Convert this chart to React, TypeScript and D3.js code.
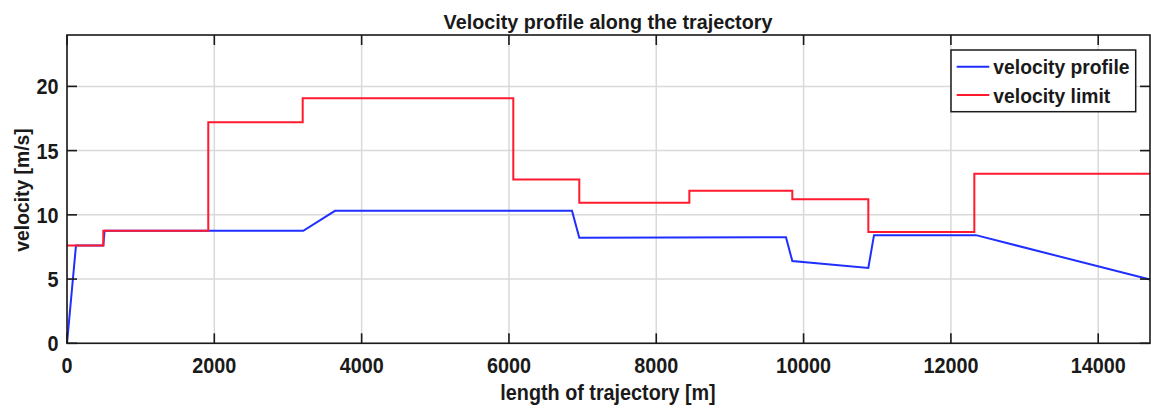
import React from "react";
import * as d3 from "d3";

const W = 1151;
const H = 408;

// velocity profile (blue) — length [m], velocity [m/s]
const profileX = [0, 122, 493, 510, 1918, 3208, 3638, 6856, 6910, 6955, 9761, 9847, 10879, 10956, 12340, 14703];
const profileV = [0, 7.62, 7.62, 8.76, 8.76, 8.76, 10.31, 10.31, 9.17, 8.22, 8.26, 6.4, 5.86, 8.42, 8.42, 4.96];

// velocity limit (red) — step function
const limitX = [0, 493, 1918, 3200, 6059, 6955, 8449, 9847, 10879, 12318, 14703];
const limitV = [7.62, 8.76, 17.2, 19.07, 12.76, 10.95, 11.88, 11.21, 8.67, 13.2, 13.2];

const xTicks = [0, 2000, 4000, 6000, 8000, 10000, 12000, 14000];
const yTicks = [0, 5, 10, 15, 20];

const legendLabels = ["velocity profile", "velocity limit"];
const legendColors = ["#1f2fff", "#ff1a2e"];

const margin = { left: 67, right: 1150, top: 35, bottom: 343.3 };
const FONT = "'Liberation Sans', Arial, Helvetica, sans-serif";

function T({ x, y, anchor = "middle", rotate = 0, size = 22, sx = 0.9, children }: any) {
  return (
    <g transform={`translate(${x},${y}) rotate(${rotate}) scale(${sx},1)`}>
      <text
        textAnchor={anchor}
        fontFamily={FONT}
        fontWeight="bold"
        fontSize={size}
        fill="#1a1a1a"
      >
        {children}
      </text>
    </g>
  );
}

export default function App() {
  const x = d3.scaleLinear().domain([0, 14703]).range([margin.left, margin.right]);
  const y = d3.scaleLinear().domain([0, 24]).range([margin.bottom, margin.top]);

  const profilePts: [number, number][] = profileX.map((d, i) => [d, profileV[i]]);
  const limitPts: [number, number][] = limitX.map((d, i) => [d, limitV[i]]);

  const line = d3.line<[number, number]>().x((d) => x(d[0])).y((d) => y(d[1]));
  const stepLine = d3
    .line<[number, number]>()
    .x((d) => x(d[0]))
    .y((d) => y(d[1]))
    .curve(d3.curveStepAfter);

  const tickLen = 10;
  const gridColor = "#d9d9d9";
  const axisColor = "#1a1a1a";

  const lg = { x0: 951, y0: 50, x1: 1135.7, y1: 111.7 };
  const rowY = [66.7, 95];

  return (
    <svg
      width={W}
      height={H}
      style={{ position: "fixed", left: 0, top: 0, background: "#fff" }}
    >
      <rect x={0} y={0} width={W} height={H} fill="#fff" />
      {/* grid */}
      {xTicks.map((t) => (
        <line key={"gx" + t} x1={x(t)} x2={x(t)} y1={margin.top} y2={margin.bottom} stroke={gridColor} strokeWidth={1.5} />
      ))}
      {yTicks.map((t) => (
        <line key={"gy" + t} x1={margin.left} x2={margin.right} y1={y(t)} y2={y(t)} stroke={gridColor} strokeWidth={1.5} />
      ))}
      {/* data */}
      <path d={line(profilePts) || ""} fill="none" stroke={legendColors[0]} strokeWidth={2} />
      <path d={stepLine(limitPts) || ""} fill="none" stroke={legendColors[1]} strokeWidth={2} />
      {/* axes box */}
      <rect
        x={margin.left}
        y={margin.top}
        width={margin.right - margin.left}
        height={margin.bottom - margin.top}
        fill="none"
        stroke={axisColor}
        strokeWidth={1.6}
      />
      {/* ticks */}
      {xTicks.map((t) => (
        <g key={"tx" + t}>
          <line x1={x(t)} x2={x(t)} y1={margin.bottom} y2={margin.bottom - tickLen} stroke={axisColor} strokeWidth={1.6} />
          <line x1={x(t)} x2={x(t)} y1={margin.top} y2={margin.top + tickLen} stroke={axisColor} strokeWidth={1.6} />
          <T x={x(t)} y={373}>{String(t)}</T>
        </g>
      ))}
      {yTicks.map((t) => (
        <g key={"ty" + t}>
          <line x1={margin.left} x2={margin.left + tickLen} y1={y(t)} y2={y(t)} stroke={axisColor} strokeWidth={1.6} />
          <line x1={margin.right} x2={margin.right - tickLen} y1={y(t)} y2={y(t)} stroke={axisColor} strokeWidth={1.6} />
          <T x={58.5} y={y(t) + 8} anchor="end">{String(t)}</T>
        </g>
      ))}
      {/* labels */}
      <T x={608} y={29} size={21} sx={0.94}>Velocity profile along the trajectory</T>
      <T x={608} y={400} size={22} sx={0.9}>length of trajectory [m]</T>
      <T x={29} y={190} rotate={-90} size={21} sx={0.92}>velocity [m/s]</T>
      {/* legend */}
      <rect x={lg.x0} y={lg.y0} width={lg.x1 - lg.x0} height={lg.y1 - lg.y0} fill="#fff" stroke={axisColor} strokeWidth={1.5} />
      {legendLabels.map((l, i) => (
        <g key={l}>
          <line x1={956.7} x2={989.3} y1={rowY[i]} y2={rowY[i]} stroke={legendColors[i]} strokeWidth={2} />
          <T x={993.3} y={rowY[i] + 7.5} anchor="start" size={21} sx={0.92}>{l}</T>
        </g>
      ))}
    </svg>
  );
}
